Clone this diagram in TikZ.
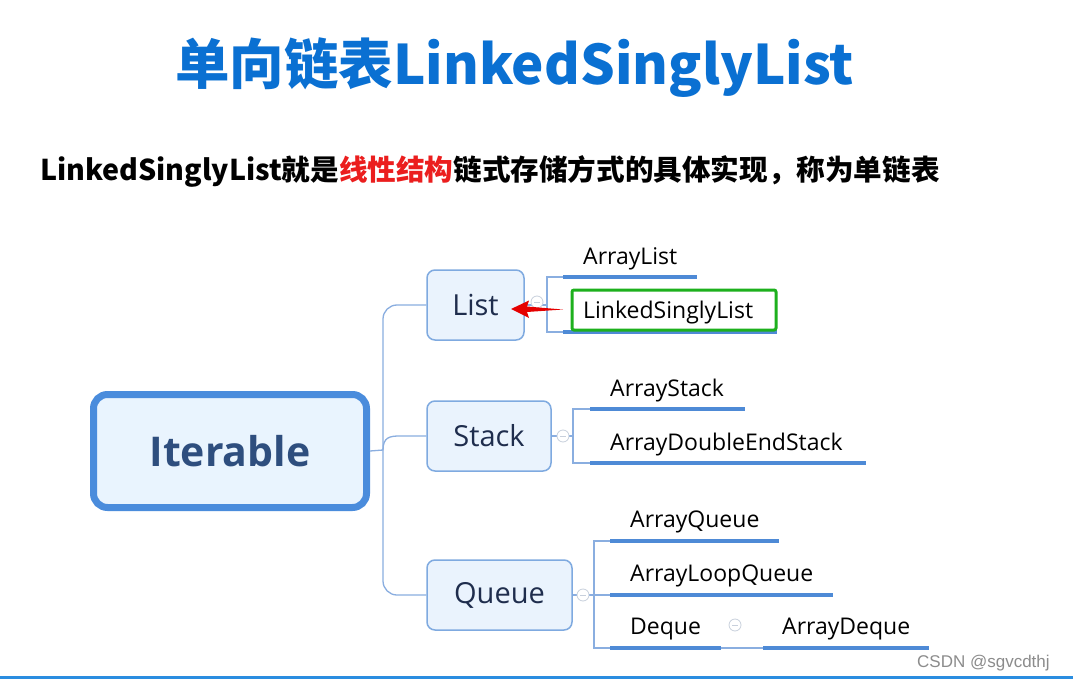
\documentclass[tikz,border=0pt]{standalone}
\usepackage{fontspec}
\setmainfont{Open Sans}
\newfontfamily\cjk{Noto Sans CJK SC}
\newfontfamily\arialf{Liberation Sans}
\usetikzlibrary{arrows.meta,calc}
\definecolor{titleblue}{RGB}{10,112,210}
\definecolor{connc}{RGB}{138,174,224}
\definecolor{underc}{RGB}{78,138,214}
\definecolor{boxborder}{RGB}{127,170,224}
\definecolor{boxfill}{RGB}{234,243,253}
\definecolor{itborder}{RGB}{74,140,220}
\definecolor{itfill}{RGB}{233,244,254}
\definecolor{ittext}{RGB}{46,78,126}
\definecolor{navy}{RGB}{31,45,77}
\definecolor{greenbox}{RGB}{29,176,29}
\definecolor{redtxt}{RGB}{235,30,30}
\definecolor{circc}{RGB}{200,208,220}
\definecolor{bottomline}{RGB}{42,141,224}
\tikzset{
  conn/.style={draw=connc, line width=1.3pt},
  under/.style={draw=underc, line width=4pt},
  catbox/.style={draw=boxborder, fill=boxfill, line width=1.5pt, rounded corners=8pt,
     minimum height=70pt, inner sep=0pt, font=\fontsize{29}{32}\selectfont, text=navy},
  leaf/.style={anchor=base west, inner sep=0pt, font=\fontsize{23}{26}\selectfont, text=black},
  collapse/.style={circle, draw=circc, fill=white, line width=0.8pt, minimum size=12pt, inner sep=0pt},
}
\newcommand{\minusin}[1]{\draw[circc, line width=0.8pt] ($(#1)+(-3,0)$) -- ($(#1)+(3,0)$);}
\begin{document}
\begin{tikzpicture}[x=1pt,y=-1pt]
\useasboundingbox (0,0) rectangle (1073,679);
\fill[white] (0,0) rectangle (1073,679);

% title and subtitle
\node[anchor=base west, inner sep=0pt, text=titleblue, font=\cjk\bfseries\fontsize{54.5}{60}\selectfont] (title) at (175,85) {单向链表LinkedSinglyList};
\node[anchor=base west, inner sep=0pt, text=black, font=\cjk\bfseries\fontsize{28.6}{32}\selectfont] (sub) at (40,181) {LinkedSinglyList就是\textcolor{redtxt}{线性结构}链式存储方式的具体实现，称为单链表};

% root
\node[draw=itborder, fill=itfill, line width=7pt, rounded corners=14pt, minimum width=273pt, minimum height=113pt,
      text=ittext, font=\bfseries\fontsize{41}{46}\selectfont] (it) at (230,451) {Iterable};

% categories
\node[catbox, minimum width=97pt] (list) at (475.5,305) {List};
\node[catbox, minimum width=124pt] (stack) at (489,436) {Stack};
\node[catbox, minimum width=145pt] (queue) at (499.5,595) {Queue};

% trunk connectors
\coordinate (tr) at (383,450);
\draw[conn] (it.east) -- (tr);
\draw[conn, rounded corners=14pt] (tr) |- (list.west);
\draw[conn, rounded corners=14pt] (tr) |- (queue.west);
\draw[conn] (tr) .. controls (383,437) and (390,436) .. (400,436) -- (stack.west);

% ---- List children
\coordinate (lb1) at (547,277); \coordinate (lb2) at (547,332);
\coordinate (al1) at (563,277); \coordinate (al2) at (697,277);
\coordinate (ll1) at (563,332); \coordinate (ll2) at (777,332);
\draw[conn] (list.east) -- (547,305);
\draw[conn] (al1) -- (lb1) -- (lb2) -- (ll1);
\draw[under] (al1) -- (al2);
\draw[under] (ll1) -- (ll2);
\node[leaf] (al) at (583,264) {ArrayList};
\node[draw=greenbox, line width=3pt, rounded corners=2pt, minimum width=204pt, minimum height=40pt, inner sep=0pt, fill=white] (green) at (674,310) {};
\node[leaf] (lsl) at (583,318) {LinkedSinglyList};
\node[collapse] (c1) at (537,302) {};
\minusin{c1}
% red arrow
\coordinate (rtail) at (563,309.5);
\coordinate (rtip) at (511,309);
\fill[red!90!black] (rtip) -- (529,300.5) -- (527,306.5) -- (rtail) -- (527,312) -- (529,318) -- cycle;

% ---- Stack children
\coordinate (sb1) at (573,409); \coordinate (sb2) at (573,463);
\coordinate (as1) at (590,409); \coordinate (as2) at (745,409);
\coordinate (ad1) at (590,463); \coordinate (ad2) at (866,463);
\draw[conn] (stack.east) -- (573,436);
\draw[conn] (as1) -- (sb1) -- (sb2) -- (ad1);
\draw[under] (as1) -- (as2);
\draw[under] (ad1) -- (ad2);
\node[collapse] (c2) at (563,436) {};
\minusin{c2}
\node[leaf] (ast) at (610,396) {ArrayStack};
\node[leaf] (ades) at (610,450) {ArrayDoubleEndStack};

% ---- Queue children
\coordinate (qb1) at (594,541); \coordinate (qb2) at (594,648);
\coordinate (aq1) at (610,541); \coordinate (aq2) at (779,541);
\coordinate (alq1) at (610,595); \coordinate (alq2) at (833,595);
\coordinate (dq1) at (610,648); \coordinate (dq2) at (721,648);
\coordinate (adq1) at (763,648); \coordinate (adq2) at (929,648);
\draw[conn] (queue.east) -- (alq1);
\draw[conn] (aq1) -- (qb1) -- (qb2) -- (dq1);
\draw[conn] (dq2) -- (adq1);
\draw[under] (aq1) -- (aq2);
\draw[under] (alq1) -- (alq2);
\draw[under] (dq1) -- (dq2);
\draw[under] (adq1) -- (adq2);
\node[collapse] (c3) at (583,595) {};
\minusin{c3}
\node[collapse] (c4) at (735,625) {};
\minusin{c4}
\node[leaf] (aq) at (630,527) {ArrayQueue};
\node[leaf] (alq) at (630,581) {ArrayLoopQueue};
\node[leaf] (dq) at (630,634) {Deque};
\node[leaf] (adq) at (782,634) {ArrayDeque};

% watermark & bottom line
\node[anchor=base west, inner sep=0pt, text=black!45, font=\arialf\fontsize{17}{20}\selectfont] (wm) at (917,667) {CSDN @sgvcdthj};
\draw[bottomline, line width=3pt] (0,677) -- (1073,677);
\end{tikzpicture}
\end{document}
